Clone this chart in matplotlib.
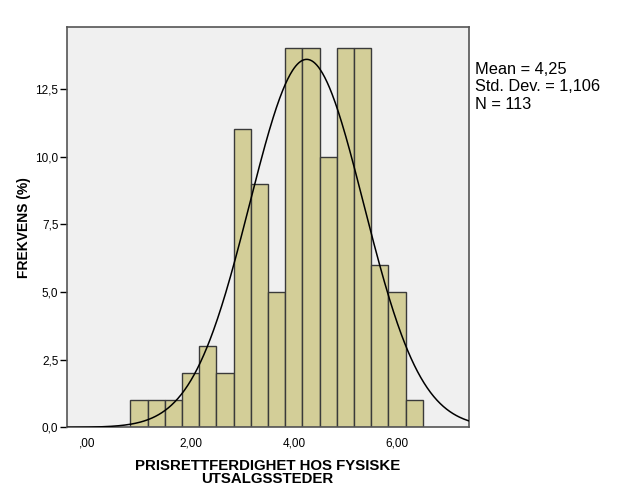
import numpy as np
import matplotlib
matplotlib.use("Agg")
import matplotlib.pyplot as plt

plt.rcParams['font.family'] = ['Liberation Sans', 'DejaVu Sans']

bin_start = 5/6
bin_width = 1/3
counts = [1, 1, 1, 2, 3, 2, 11, 9, 5, 14, 14, 10, 14, 14, 6, 5, 1]
mean = 4.25
sd = 1.106
n = 113
xticks = [0, 2, 4, 6]
xticklabels = [",00", "2,00", "4,00", "6,00"]
yticks = [0, 2.5, 5, 7.5, 10, 12.5]
yticklabels = ["0,0", "2,5", "5,0", "7,5", "10,0", "12,5"]

fig = plt.figure(figsize=(6.26, 5.01), dpi=100)
ax = fig.add_axes([0.1066, 0.147, 0.6421, 0.7985])
ax.set_facecolor('#F0F0F0')

lefts = [bin_start + i * bin_width for i in range(len(counts))]
ax.bar(lefts, counts, width=bin_width, align='edge', color='#D3CE98',
       edgecolor='#3A3A3A', linewidth=1.0, zorder=2)

xs = np.linspace(-0.4, 7.4, 500)
ys = n * bin_width / (sd * np.sqrt(2 * np.pi)) * np.exp(-0.5 * ((xs - mean) / sd) ** 2)
ax.plot(xs, ys, color='black', linewidth=1.1, zorder=3)

ax.set_xlim(-0.4, 7.39)
ax.set_ylim(0, 14.77)
ax.set_xticks(xticks)
ax.set_xticklabels(xticklabels)
ax.set_yticks(yticks)
ax.set_yticklabels(yticklabels)
ax.tick_params(axis='x', length=0, pad=7, labelsize=8.5, colors='#000000')
ax.tick_params(axis='y', direction='out', length=5, width=1, pad=1, labelsize=8.5)
for s in ax.spines.values():
    s.set_color('#555555')
    s.set_linewidth(1.2)

ax.set_xlabel("PRISRETTFERDIGHET HOS FYSISKE\nUTSALGSSTEDER", fontsize=10.8,
              fontweight='bold', labelpad=7, linespacing=0.95)
ax.set_ylabel("FREKVENS (%)", fontsize=10, fontweight='bold', labelpad=3)

fig.text(0.758, 0.877, "Mean = 4,25\nStd. Dev. = 1,106\nN = 113", fontsize=11.8,
         va='top', ha='left', linespacing=1.22)

fig.savefig("out.png", dpi=100)
